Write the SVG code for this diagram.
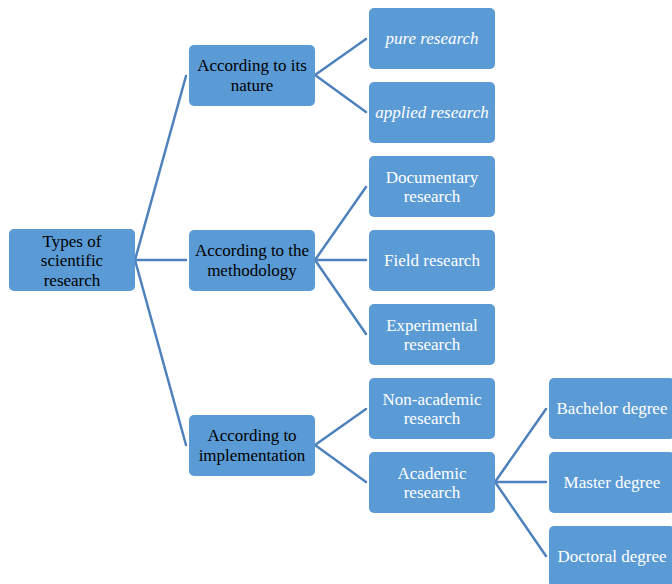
<svg xmlns="http://www.w3.org/2000/svg" width="672" height="584" viewBox="0 0 672 584">
<style>
.box{fill:#5B9BD5;}
.t{font-family:"Liberation Serif","Times New Roman",serif;font-size:17px;text-anchor:middle;}
.dk{fill:#000;}
.wt{fill:#fff;}
.it{font-style:italic;}
.ln{stroke:#4F81BD;stroke-width:2.5;fill:none;stroke-linecap:round;}
</style>
<rect width="672" height="584" fill="#fff"/>
<g id="connectors">
<line class="ln" x1="135" y1="260" x2="186" y2="76"/>
<line class="ln" x1="135" y1="260" x2="186" y2="260"/>
<line class="ln" x1="135" y1="260" x2="186" y2="445"/>
<line class="ln" x1="315" y1="75" x2="366" y2="39"/>
<line class="ln" x1="315" y1="75" x2="366" y2="112"/>
<line class="ln" x1="315" y1="260" x2="366" y2="187"/>
<line class="ln" x1="315" y1="260" x2="366" y2="260"/>
<line class="ln" x1="315" y1="260" x2="366" y2="334"/>
<line class="ln" x1="315" y1="445" x2="366" y2="409"/>
<line class="ln" x1="315" y1="445" x2="366" y2="482"/>
<line class="ln" x1="495" y1="482" x2="546" y2="409"/>
<line class="ln" x1="495" y1="482" x2="546" y2="482"/>
<line class="ln" x1="495" y1="482" x2="546" y2="556"/>
</g>
<g id="root"><rect class="box" x="9" y="229" width="126" height="62" rx="5"/>
<text class="t dk" x="72" y="246.5">Types of</text><text class="t dk" x="72" y="266">scientific</text><text class="t dk" x="72" y="285.5">research</text></g>
<g id="nature"><rect class="box" x="189" y="45" width="126" height="61" rx="5"/>
<text class="t dk" x="252" y="71">According to its</text><text class="t dk" x="252" y="90.5">nature</text></g>
<g id="methodology"><rect class="box" x="189" y="230" width="126" height="61" rx="5"/>
<text class="t dk" x="252" y="256">According to the</text><text class="t dk" x="252" y="275.5">methodology</text></g>
<g id="implementation"><rect class="box" x="189" y="415" width="126" height="61" rx="5"/>
<text class="t dk" x="252" y="441">According to</text><text class="t dk" x="252" y="460.5">implementation</text></g>
<g id="pure"><rect class="box" x="369" y="8" width="126" height="61" rx="5"/>
<text class="t wt it" x="432" y="44">pure research</text></g>
<g id="applied"><rect class="box" x="369" y="82" width="126" height="61" rx="5"/>
<text class="t wt it" x="432" y="118">applied research</text></g>
<g id="documentary"><rect class="box" x="369" y="156" width="126" height="61" rx="5"/>
<text class="t wt" x="432" y="182.5">Documentary</text><text class="t wt" x="432" y="202">research</text></g>
<g id="field"><rect class="box" x="369" y="230" width="126" height="61" rx="5"/>
<text class="t wt" x="432" y="266">Field research</text></g>
<g id="experimental"><rect class="box" x="369" y="304" width="126" height="61" rx="5"/>
<text class="t wt" x="432" y="330.5">Experimental</text><text class="t wt" x="432" y="350">research</text></g>
<g id="nonacademic"><rect class="box" x="369" y="378" width="126" height="61" rx="5"/>
<text class="t wt" x="432" y="404.5">Non-academic</text><text class="t wt" x="432" y="424">research</text></g>
<g id="academic"><rect class="box" x="369" y="452" width="126" height="61" rx="5"/>
<text class="t wt" x="432" y="478.5">Academic</text><text class="t wt" x="432" y="498">research</text></g>
<g id="bachelor"><rect class="box" x="549" y="378" width="126" height="61" rx="5"/>
<text class="t wt" x="612" y="414">Bachelor degree</text></g>
<g id="master"><rect class="box" x="549" y="452" width="126" height="61" rx="5"/>
<text class="t wt" x="612" y="488">Master degree</text></g>
<g id="doctoral"><rect class="box" x="549" y="526" width="126" height="61" rx="5"/>
<text class="t wt" x="612" y="562">Doctoral degree</text></g>
</svg>
